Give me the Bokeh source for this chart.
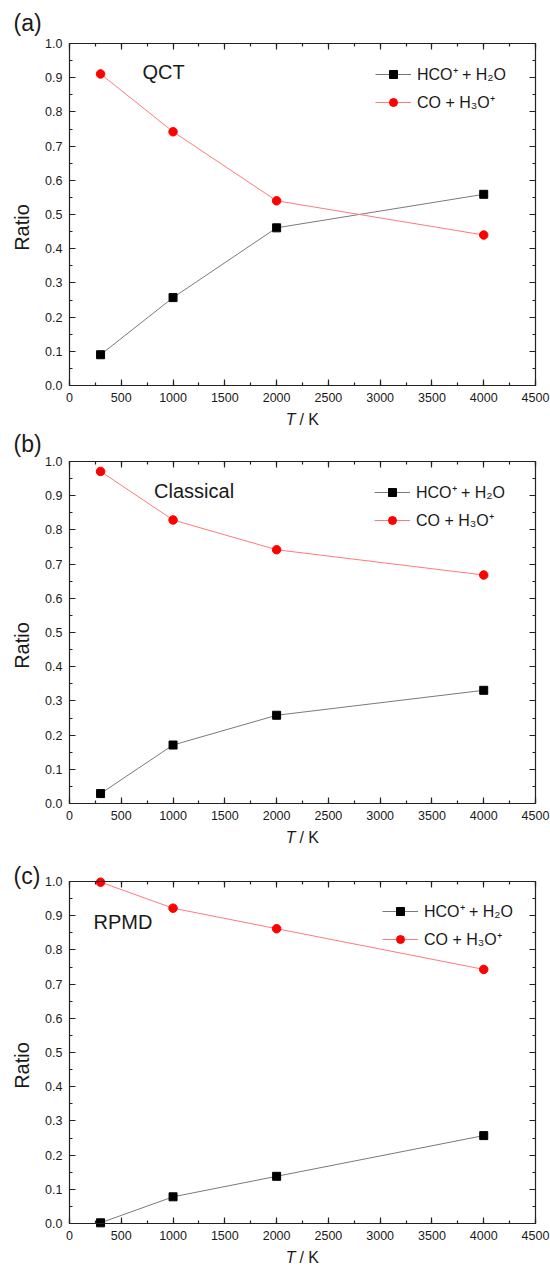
import numpy as np
from bokeh.plotting import figure
from bokeh.models import (Range1d, LinearAxis, SingleIntervalTicker, PrintfTickFormatter,
                          CustomJSTickFormatter, Label, Legend, LegendItem)
from bokeh.layouts import column
from bokeh.embed import file_html
from bokeh.resources import INLINE

# ---------------- data ----------------
T = [300, 1000, 2000, 4000]

hco_qct = [0.090, 0.257, 0.461, 0.559]
co_qct = [0.911, 0.742, 0.540, 0.440]

hco_classical = [0.029, 0.171, 0.258, 0.331]
co_classical = [0.971, 0.829, 0.742, 0.668]

hco_rpmd = [0.002, 0.078, 0.138, 0.257]
co_rpmd = [0.998, 0.922, 0.862, 0.743]

panel_tags = ["(a)", "(b)", "(c)"]
method_names = ["QCT", "Classical", "RPMD"]
legend_labels = ["HCO\u207a + H\u2082O", "CO + H\u2083O\u207a"]
x_label_italic = "T"
x_label_rest = "/ K"
y_label = "Ratio"

X_MIN, X_MAX = 0, 4500
Y_MIN, Y_MAX = 0.0, 1.0

# ---------------- layout (pixels) ----------------
FONT = "Liberation Sans"
TXT = "#1a1a1a"
FIG_W = 550
AX_LEFT, AX_RIGHT = 69, 535          # page x of the left / right axis
AX_H = 342                           # axis box height
KX = (AX_RIGHT - AX_LEFT) / (X_MAX - X_MIN)


def make_panel(hco, co, tag, tag_y, name, name_x, name_y, leg_loc, fig_top, fig_h, box_top):
    x0 = X_MIN - AX_LEFT / KX
    x1 = X_MAX + (FIG_W - AX_RIGHT) / KX
    y1 = Y_MAX + (box_top - fig_top) / AX_H
    y0 = Y_MIN - (fig_top + fig_h - (box_top + AX_H)) / AX_H
    p = figure(width=FIG_W, height=fig_h, x_range=Range1d(x0, x1), y_range=Range1d(y0, y1),
               output_backend="svg", toolbar_location=None,
               x_axis_type=None, y_axis_type=None,
               min_border=0, min_border_left=0, min_border_right=0,
               min_border_top=0, min_border_bottom=0)
    p.outline_line_color = None
    p.background_fill_color = "white"
    p.border_fill_color = "white"

    xt = SingleIntervalTicker(interval=500, num_minor_ticks=2)
    yt = SingleIntervalTicker(interval=0.1, num_minor_ticks=2)
    blank = CustomJSTickFormatter(code="return ''")

    specs = {"below": (xt, Y_MIN, (X_MIN, X_MAX)),
             "above": (xt, Y_MAX, (X_MIN, X_MAX)),
             "left": (yt, X_MIN, (Y_MIN, Y_MAX)),
             "right": (yt, X_MAX, (Y_MIN, Y_MAX))}
    for side, (tk, loc, bnds) in specs.items():
        ax = LinearAxis(ticker=tk, fixed_location=loc, bounds=bnds)
        ax.axis_line_color = "#222222"
        ax.axis_line_width = 1.2
        ax.major_tick_line_color = "#222222"
        ax.minor_tick_line_color = "#222222"
        ax.major_tick_line_width = 1.2
        ax.minor_tick_line_width = 1.2
        ax.major_tick_in = 6
        ax.major_tick_out = 0
        ax.minor_tick_in = 3
        ax.minor_tick_out = 0
        ax.major_label_text_font = FONT
        ax.major_label_text_font_size = "12.5px"
        ax.major_label_text_color = TXT
        if side == "below":
            ax.major_label_standoff = 7
        elif side == "left":
            ax.formatter = PrintfTickFormatter(format="%.1f")
            ax.major_label_standoff = 7
        else:
            ax.formatter = blank
            ax.major_label_standoff = 0
        p.add_layout(ax, side)

    r1 = p.line(T, hco, line_color="#7a7a7a", line_width=1)
    s1 = p.scatter(T, hco, marker="square", size=8, fill_color="black", line_color="black")
    r2 = p.line(T, co, line_color="#ff7a7a", line_width=1)
    s2 = p.scatter(T, co, marker="circle", size=8.5, fill_color="#ff0000", line_color="#ff0000")

    legend = Legend(items=[LegendItem(label=legend_labels[0], renderers=[r1, s1]),
                           LegendItem(label=legend_labels[1], renderers=[r2, s2])],
                    location=leg_loc, glyph_width=36, glyph_height=20, label_height=20,
                    spacing=6, padding=0, margin=0, label_standoff=6,
                    border_line_color=None, background_fill_alpha=0,
                    label_text_font=FONT, label_text_font_size="16px",
                    label_text_color=TXT)
    p.add_layout(legend, "center")

    p.add_layout(Label(x=-541, y=tag_y, text=tag, text_font=FONT, text_font_size="23px",
                       text_color=TXT, text_align="left", text_baseline="middle"))
    p.add_layout(Label(x=name_x, y=name_y, text=name, text_font=FONT, text_font_size="20px",
                       text_color=TXT, text_align="left", text_baseline="middle"))
    p.add_layout(Label(x=-454, y=0.462, text=y_label, text_font=FONT, text_font_size="20px",
                       text_color=TXT, text_align="center", text_baseline="middle",
                       angle=np.pi / 2))
    p.add_layout(Label(x=2182, y=-0.100, text=x_label_italic, text_font=FONT,
                       text_font_size="16px", text_font_style="italic", text_color=TXT,
                       text_align="right", text_baseline="middle"))
    p.add_layout(Label(x=2182, y=-0.100, x_offset=4, text=x_label_rest, text_font=FONT,
                       text_font_size="16px", text_color=TXT,
                       text_align="left", text_baseline="middle"))
    return p


# figure a: page y 0..431, figure b: 431..851, figure c: 851..1270
pa = make_panel(hco_qct, co_qct, panel_tags[0], 1.06, method_names[0], 705, 0.917,
                (375, 318), 0, 431, 43)
pb = make_panel(hco_classical, co_classical, panel_tags[1], 1.05, method_names[1], 817, 0.914,
                (374, 320), 431, 420, 461)
pc = make_panel(hco_rpmd, co_rpmd, panel_tags[2], 1.015, method_names[2], 232, 0.882,
                (382, 320), 851, 419, 881)

layout = column(pa, pb, pc, spacing=0)
open("out.html", "w").write(file_html(layout, INLINE))
